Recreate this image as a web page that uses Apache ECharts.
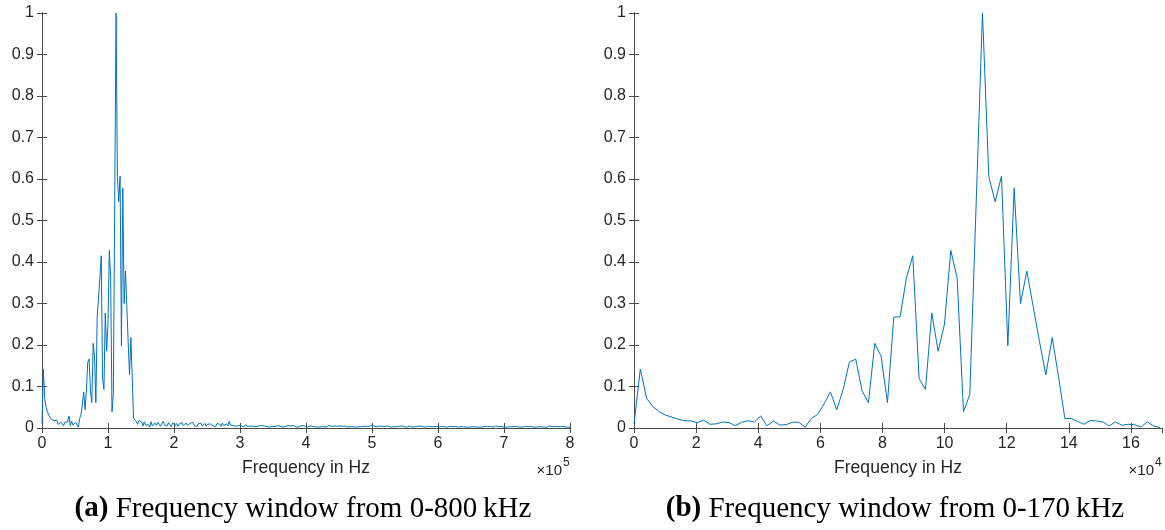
<!DOCTYPE html>
<html>
<head>
<meta charset="utf-8">
<script src="https://cdn.jsdelivr.net/npm/echarts@6/dist/echarts.min.js"></script>
<style>
html,body{margin:0;padding:0;background:#fff;}
#chart{width:1165px;height:530px;}
</style>
</head>
<body>
<div id="chart"></div>
<script>
// Frequency bin spacing (Hz)
const binStep = 2040;

// Normalised spectrum, bins 0 .. 170 kHz (shown in both panels)
const lowBand = [
  0.010, 0.142, 0.071, 0.051, 0.039, 0.031, 0.026, 0.021, 0.0175, 0.017,
  0.013, 0.019, 0.009, 0.010, 0.0145, 0.013, 0.0055, 0.014, 0.0175, 0.0145,
  0.029, 0.0055, 0.017, 0.007, 0.008, 0.014, 0.014, 0.002, 0.023, 0.033,
  0.058, 0.087, 0.044, 0.092, 0.159, 0.166, 0.089, 0.061, 0.204, 0.173,
  0.061, 0.267, 0.268, 0.362, 0.415, 0.119, 0.093, 0.277, 0.185, 0.250,
  0.428, 0.362, 0.039, 0.081, 0.54, 1.0, 0.606, 0.545, 0.607, 0.198,
  0.578, 0.300, 0.378, 0.293, 0.208, 0.128, 0.218, 0.124, 0.023, 0.023,
  0.016, 0.009, 0.018, 0.017, 0.0145, 0.005, 0.015, 0.0065, 0.009, 0.008,
  0.002, 0.015, 0.005, 0.001
];

// Normalised spectrum, bins above 170 kHz up to 800 kHz (left panel only)
const highBand = [
  0.012, 0.006, 0.014, 0.009, 0.004, 0.011, 0.016, 0.007, 0.010, 0.005, 0.013, 0.008, 0.003, 0.012, 0.009, 0.006, 0.011, 0.004, 0.010, 0.007,
  0.013, 0.005, 0.009, 0.012, 0.006, 0.004, 0.011, 0.008, 0.014, 0.006, 0.009, 0.003, 0.010, 0.007, 0.012, 0.005, 0.008, 0.011, 0.004, 0.009,
  0.006, 0.010, 0.013, 0.005, 0.008, 0.003, 0.011, 0.007, 0.009, 0.004, 0.012, 0.006, 0.008, 0.010, 0.005, 0.016, 0.007, 0.011, 0.006, 0.009,
  0.004, 0.008, 0.006, 0.010, 0.005, 0.007, 0.003, 0.008, 0.006, 0.004, 0.007, 0.005, 0.009, 0.004, 0.006, 0.003, 0.007, 0.005, 0.004, 0.006,
  0.003, 0.005, 0.007, 0.004, 0.006, 0.002, 0.005, 0.004, 0.007, 0.003, 0.005, 0.006, 0.003, 0.004, 0.006, 0.002, 0.005, 0.004, 0.003, 0.006,
  0.004, 0.005, 0.003, 0.006, 0.004, 0.002, 0.005, 0.003, 0.004, 0.006, 0.003, 0.005, 0.004, 0.002, 0.004, 0.005, 0.003, 0.004, 0.006, 0.003,
  0.004, 0.002, 0.005, 0.003, 0.004, 0.003, 0.005, 0.002, 0.004, 0.006, 0.003, 0.004, 0.002, 0.005, 0.003, 0.004, 0.003, 0.005, 0.002, 0.004,
  0.003, 0.005, 0.003, 0.002, 0.004, 0.003, 0.005, 0.003, 0.004, 0.002, 0.004, 0.003, 0.005, 0.003, 0.002, 0.004, 0.003, 0.004, 0.006, 0.004,
  0.008, 0.007, 0.005, 0.004, 0.006, 0.003, 0.004, 0.005, 0.003, 0.004, 0.002, 0.004, 0.003, 0.005, 0.003, 0.002, 0.004, 0.003, 0.004, 0.003,
  0.002, 0.004, 0.003, 0.005, 0.002, 0.003, 0.004, 0.002, 0.003, 0.005, 0.003, 0.002, 0.004, 0.003, 0.002, 0.004, 0.003, 0.005, 0.002, 0.003,
  0.004, 0.002, 0.003, 0.004, 0.002, 0.003, 0.005, 0.003, 0.002, 0.004, 0.003, 0.002, 0.003, 0.004, 0.002, 0.003, 0.005, 0.002, 0.003, 0.004,
  0.002, 0.003, 0.002, 0.004, 0.003, 0.002, 0.004, 0.003, 0.002, 0.003, 0.005, 0.002, 0.003, 0.002, 0.004, 0.003, 0.002, 0.003, 0.004, 0.002,
  0.003, 0.002, 0.004, 0.002, 0.003, 0.004, 0.002, 0.003, 0.002, 0.004, 0.003, 0.002, 0.003, 0.005, 0.002, 0.003, 0.002, 0.004, 0.003, 0.002,
  0.003, 0.002, 0.004, 0.003, 0.002, 0.003, 0.002, 0.004, 0.002, 0.003, 0.004, 0.002, 0.003, 0.002, 0.003, 0.004, 0.002, 0.003, 0.002, 0.004,
  0.003, 0.002, 0.003, 0.002, 0.004, 0.003, 0.002, 0.003, 0.004, 0.002, 0.003, 0.002, 0.003, 0.005, 0.002, 0.003, 0.002, 0.004, 0.002, 0.003,
  0.002, 0.003, 0.002, 0.004, 0.003, 0.002, 0.003, 0.002, 0.001
];

// Axis settings / tick labels
const xRangeA = [0, 800000];
const xRangeB = [0, 170000];
const xIntervalA = 100000;
const xIntervalB = 20000;
const xScaleA = 1e5;
const xScaleB = 1e4;
const yRange = [0, 1];
const yInterval = 0.1;

const xLabelText = 'Frequency in Hz';
const captionA = ['(a)', ' Frequency window from 0-800\u2009kHz'];
const captionB = ['(b)', ' Frequency window from 0-170\u2009kHz'];
const exponentA = '5';
const exponentB = '4';

const fullSpectrum = lowBand.concat(highBand);
const dataA = fullSpectrum.map((v, i) => [i * binStep, v]);
const dataB = lowBand.map((v, i) => [i * binStep, v]);

const axisColor = '#4a4a4a';
const textColor = '#262626';
const lineColor = '#0072BD';
const sansFont = 'Liberation Sans, Arial, Helvetica, sans-serif';
const serifFont = 'Liberation Serif, Times New Roman, serif';

const grids = [
  {left: 42, top: 13, width: 528, height: 415, outerBoundsMode: 'none', containLabel: false},
  {left: 634, top: 13, width: 528, height: 415, outerBoundsMode: 'none', containLabel: false}
];

function xAxes(gi, range, interval, scale) {
  return [
    {
      type: 'value', gridIndex: gi, min: range[0], max: range[1], interval: interval,
      position: 'bottom',
      axisLine: {show: true, lineStyle: {color: axisColor, width: 1}},
      axisTick: {show: true, inside: true, length: 5, lineStyle: {color: axisColor}},
      axisLabel: {show: true, color: textColor, fontFamily: sansFont, fontSize: 16, margin: 8,
        showMaxLabel: (range[1] % interval === 0),
        hideOverlap: false,
        formatter: v => String(Math.round(v / scale))},
      splitLine: {show: false}
    },
    {
      type: 'value', gridIndex: gi, min: range[0], max: range[1], interval: interval,
      position: 'top',
      axisLine: {show: true, lineStyle: {color: axisColor, width: 1}},
      axisTick: {show: true, inside: true, length: 5, lineStyle: {color: axisColor}},
      axisLabel: {show: false},
      splitLine: {show: false}
    }
  ];
}
function yAxes(gi) {
  return [
    {
      type: 'value', gridIndex: gi, min: yRange[0], max: yRange[1], interval: yInterval,
      position: 'left',
      axisLine: {show: true, lineStyle: {color: axisColor, width: 1}},
      axisTick: {show: true, inside: true, length: 5, lineStyle: {color: axisColor}},
      axisLabel: {show: true, color: textColor, fontFamily: sansFont, fontSize: 16, margin: 8,
        formatter: v => String(+v.toFixed(1))},
      splitLine: {show: false}
    },
    {
      type: 'value', gridIndex: gi, min: yRange[0], max: yRange[1], interval: yInterval,
      position: 'right',
      axisLine: {show: true, lineStyle: {color: axisColor, width: 1}},
      axisTick: {show: true, inside: true, length: 5, lineStyle: {color: axisColor}},
      axisLabel: {show: false},
      splitLine: {show: false}
    }
  ];
}

const xAxisList = xAxes(0, xRangeA, xIntervalA, xScaleA).concat(xAxes(1, xRangeB, xIntervalB, xScaleB));
const yAxisList = yAxes(0).concat(yAxes(1));

function panelTexts(g, caption, exponent) {
  const cx = g.left + g.width / 2;
  const right = g.left + g.width;
  return [
    {type: 'text', x: cx, y: 468,
      style: {text: xLabelText, fill: textColor, font: '17.6px ' + sansFont, textAlign: 'center', textVerticalAlign: 'middle'}},
    {type: 'text', x: right - 8, y: 471,
      style: {text: '\u00d710', fill: textColor, font: '15px ' + sansFont, textAlign: 'right', textVerticalAlign: 'middle'}},
    {type: 'text', x: right - 7, y: 463,
      style: {text: exponent, fill: textColor, font: '12px ' + sansFont, textAlign: 'left', textVerticalAlign: 'middle'}},
    {type: 'text', x: cx - 3, y: 509,
      style: {
        text: '{b|' + caption[0] + '}{r|' + caption[1] + '}',
        textAlign: 'center', textVerticalAlign: 'middle',
        rich: {
          b: {font: 'bold 29px ' + serifFont, fill: '#000'},
          r: {font: '29px ' + serifFont, fill: '#000'}
        }
      }}
  ];
}

const chart = echarts.init(document.getElementById('chart'), null, {renderer: 'canvas'});
chart.setOption({
  animation: false,
  backgroundColor: '#fff',
  grid: grids,
  xAxis: xAxisList,
  yAxis: yAxisList,
  series: [
    {type: 'line', xAxisIndex: 0, yAxisIndex: 0, data: dataA, showSymbol: false, symbol: 'none',
      lineStyle: {color: lineColor, width: 1}, clip: true},
    {type: 'line', xAxisIndex: 2, yAxisIndex: 2, data: dataB, showSymbol: false, symbol: 'none',
      lineStyle: {color: lineColor, width: 1}, clip: true}
  ],
  graphic: panelTexts(grids[0], captionA, exponentA).concat(panelTexts(grids[1], captionB, exponentB))
});
</script>
</body>
</html>
